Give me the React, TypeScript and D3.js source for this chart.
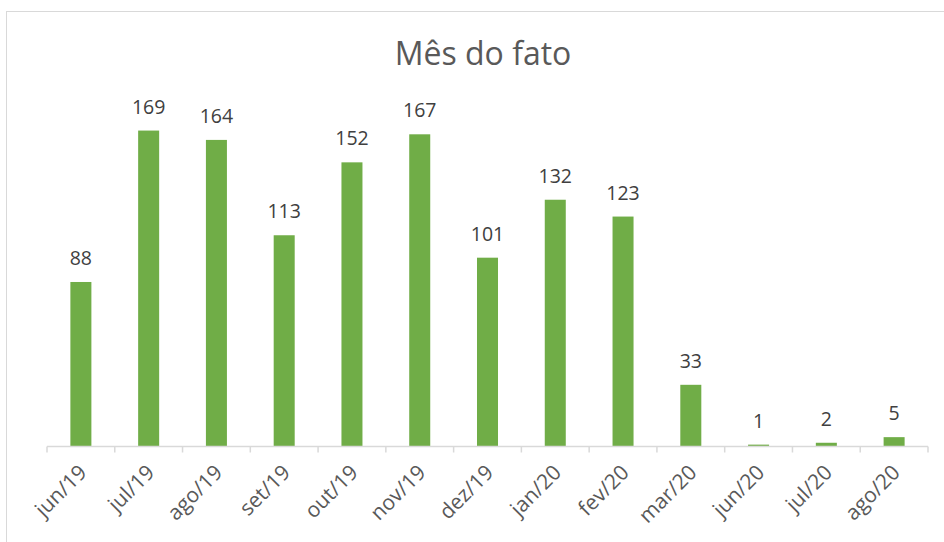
import React, { useRef, useEffect } from "react";
import * as d3 from "d3";

const months = [
  "jun/19", "jul/19", "ago/19", "set/19", "out/19", "nov/19", "dez/19",
  "jan/20", "fev/20", "mar/20", "jun/20", "jul/20", "ago/20",
];
const counts = [88, 169, 164, 113, 152, 167, 101, 132, 123, 33, 1, 2, 5];
const title = "Mês do fato";

const App = () => {
  const chartRef = useRef<SVGSVGElement>(null);
  const width = 944;
  const height = 542;

  useEffect(() => {
    document.body.style.margin = "0";
    const svg = d3.select(chartRef.current);
    svg.selectAll("*").remove();

    const font = "'Open Sans', 'Noto Sans', sans-serif";
    const left = 47;
    const right = 928;
    const baseY = 446.5;

    // chart area border (only top and left visible in the crop)
    svg
      .append("rect")
      .attr("x", 6.5)
      .attr("y", 11.5)
      .attr("width", 960)
      .attr("height", 600)
      .attr("fill", "#fff")
      .attr("stroke", "#d9d9d9");

    svg
      .append("text")
      .attr("x", 483)
      .attr("y", 65)
      .attr("text-anchor", "middle")
      .style("font-family", font)
      .style("font-size", "32px")
      .style("fill", "#595959")
      .text(title);

    const x = d3.scaleBand().domain(months).range([left, right]).paddingInner(0.69).paddingOuter(0.345);
    const y = d3.scaleLinear().domain([0, 180]).range([baseY, 110]);

    const g = svg.append("g");
    g.selectAll("rect.bar")
      .data(counts)
      .enter()
      .append("rect")
      .attr("class", "bar")
      .attr("x", (d, i) => x(months[i]))
      .attr("y", (d) => y(d))
      .attr("width", x.bandwidth())
      .attr("height", (d) => baseY - y(d))
      .attr("fill", "#70ad47");

    g.selectAll("text.val")
      .data(counts)
      .enter()
      .append("text")
      .attr("class", "val")
      .attr("x", (d, i) => x(months[i]) + x.bandwidth() / 2)
      .attr("y", (d) => y(d) - 17)
      .attr("text-anchor", "middle")
      .style("font-family", font)
      .style("font-size", "19.5px")
      .style("fill", "#404040")
      .text((d) => d);

    // axis line and ticks at category boundaries
    const step = (right - left) / months.length;
    svg
      .append("line")
      .attr("x1", left)
      .attr("x2", right)
      .attr("y1", baseY)
      .attr("y2", baseY)
      .attr("stroke", "#d9d9d9")
      .attr("stroke-width", 1.5);
    svg
      .selectAll("line.tick")
      .data(d3.range(months.length + 1))
      .enter()
      .append("line")
      .attr("class", "tick")
      .attr("x1", (i) => left + i * step)
      .attr("x2", (i) => left + i * step)
      .attr("y1", baseY)
      .attr("y2", baseY + 6)
      .attr("stroke", "#d9d9d9")
      .attr("stroke-width", 1.5);

    svg
      .selectAll("text.cat")
      .data(months)
      .enter()
      .append("text")
      .attr("class", "cat")
      .attr("text-anchor", "end")
      .attr("transform", (d) => `translate(${x(d) + x.bandwidth() / 2 + 2}, ${baseY + 22}) rotate(-45)`)
      .attr("dy", "0.35em")
      .style("font-family", font)
      .style("font-size", "21px")
      .style("fill", "#595959")
      .text((d) => d);
  }, []);

  return <svg ref={chartRef} width={width} height={height} style={{ display: "block" }} />;
};

export default App;
